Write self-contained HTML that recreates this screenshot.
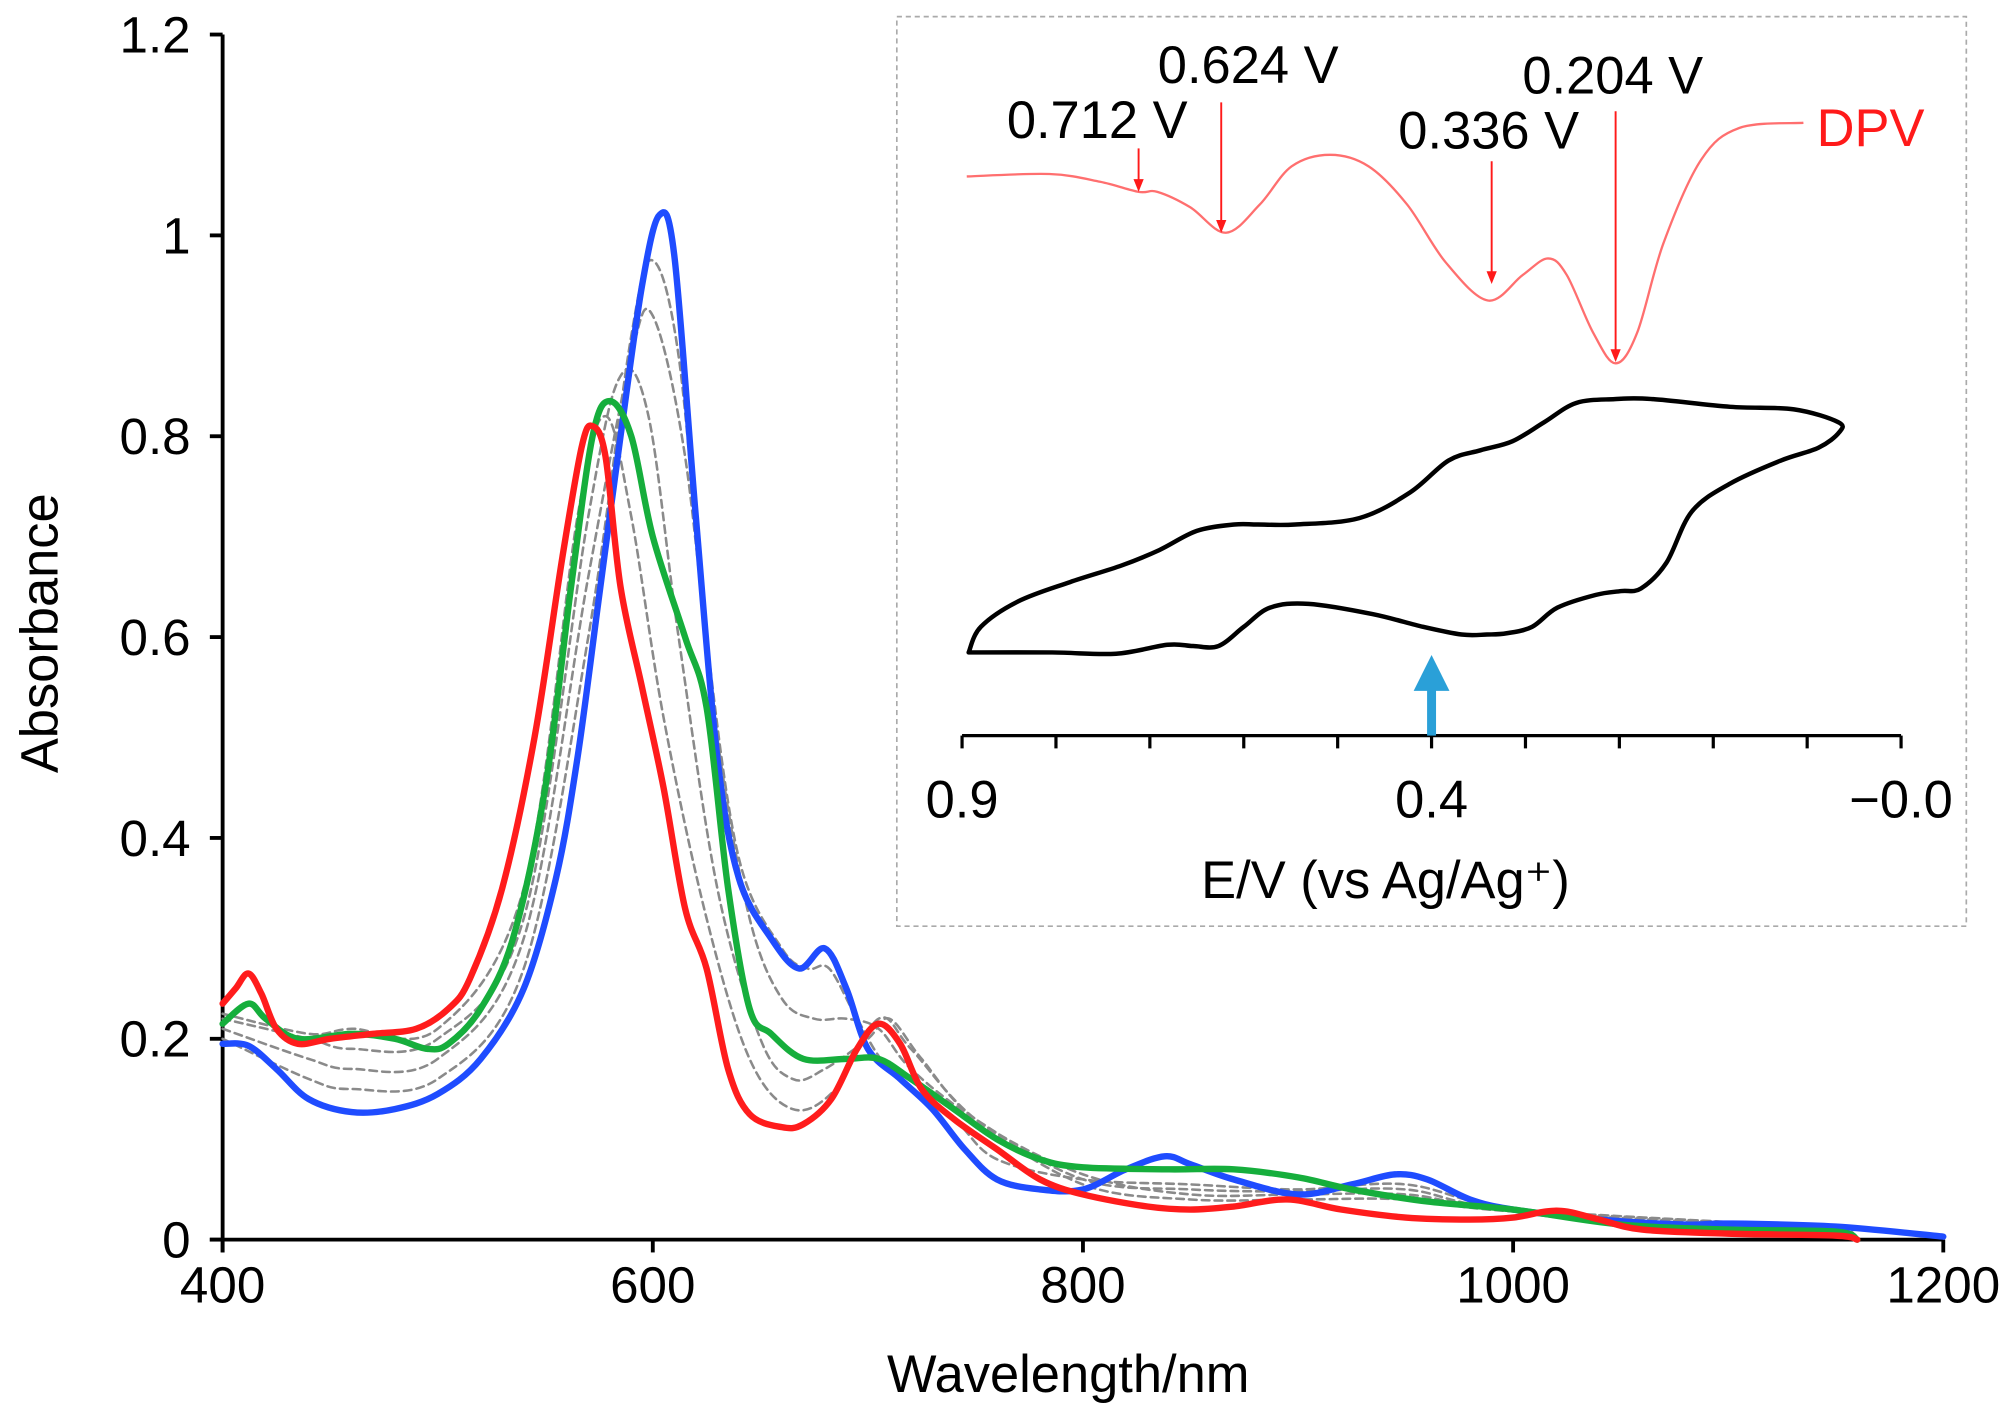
<!DOCTYPE html>
<html><head><meta charset="utf-8"><style>
html,body{margin:0;padding:0;background:#fff;}
svg{display:block;font-family:"Liberation Sans",Arial,sans-serif;}
</style></head><body>
<svg id="chart" width="2006" height="1419" viewBox="0 0 1568 1109.2" xmlns="http://www.w3.org/2000/svg">
<g id="main"></g>
<g id="inset"></g>
</svg>
<script>
// ---- main chart data ----
const yTicks = [0, 0.2, 0.4, 0.6, 0.8, 1, 1.2];
const yTickLabels = ["0", "0.2", "0.4", "0.6", "0.8", "1", "1.2"];
const xTicks = [400, 600, 800, 1000, 1200];
const xTickLabels = ["400", "600", "800", "1000", "1200"];
const blueWl = [400,412,425,440,460,480,500,520,540,555,565,575,585,595,603,610,620,630,640,655,668,680,690,700,715,730,745,760,780,800,820,838,850,870,900,925,945,960,980,1000,1040,1080,1100,1150,1200];
const blueAbs = [0.195,0.193,0.17,0.14,0.127,0.13,0.145,0.18,0.25,0.36,0.48,0.64,0.80,0.95,1.02,0.98,0.72,0.48,0.36,0.30,0.27,0.29,0.25,0.19,0.16,0.13,0.09,0.06,0.05,0.05,0.07,0.083,0.075,0.06,0.045,0.055,0.065,0.06,0.04,0.03,0.02,0.015,0.016,0.013,0.003];
const redWl = [400,406,412,418,425,435,450,470,490,505,515,530,545,558,567,572,578,585,595,605,615,625,635,645,660,670,683,695,705,715,725,740,760,780,800,830,850,870,895,920,950,980,1000,1015,1025,1040,1060,1100,1150,1160];
const redAbs = [0.235,0.25,0.265,0.245,0.21,0.195,0.2,0.205,0.21,0.23,0.26,0.35,0.5,0.68,0.79,0.81,0.78,0.65,0.55,0.45,0.33,0.27,0.17,0.125,0.112,0.115,0.14,0.19,0.215,0.195,0.15,0.12,0.09,0.06,0.045,0.033,0.03,0.033,0.04,0.03,0.022,0.02,0.022,0.028,0.028,0.02,0.01,0.006,0.004,0];
const greenWl = [400,412,420,435,460,480,495,505,520,535,550,562,572,580,590,600,615,625,635,645,655,670,690,705,720,740,760,780,800,840,870,900,925,960,1000,1050,1100,1150,1160];
const greenAbs = [0.215,0.235,0.22,0.2,0.205,0.2,0.19,0.195,0.23,0.3,0.45,0.65,0.8,0.835,0.8,0.7,0.6,0.53,0.35,0.23,0.205,0.18,0.18,0.18,0.16,0.13,0.1,0.08,0.072,0.07,0.07,0.062,0.05,0.038,0.03,0.015,0.01,0.008,0];
const gray1Wl = [400,440,460,500,540,570,590,600,612,625,640,660,672,682,695,710,740,760,800,850,900,950,1000,1100,1150,1160];
const gray1Abs = [0.2,0.16,0.15,0.16,0.27,0.6,0.9,0.975,0.88,0.6,0.38,0.29,0.27,0.27,0.22,0.17,0.12,0.08,0.06,0.055,0.05,0.055,0.03,0.015,0.013,0];
const gray2Wl = [400,440,460,500,540,570,590,600,615,630,645,660,675,690,705,720,750,800,850,900,950,1000,1150];
const gray2Abs = [0.21,0.18,0.17,0.18,0.3,0.66,0.88,0.92,0.78,0.5,0.32,0.24,0.22,0.22,0.21,0.17,0.12,0.06,0.05,0.048,0.05,0.03,0.012];
const gray3Wl = [400,440,460,500,540,570,585,598,612,630,650,665,680,700,710,725,750,800,850,900,950,1000,1150];
const gray3Abs = [0.22,0.2,0.19,0.2,0.32,0.72,0.86,0.82,0.6,0.35,0.2,0.16,0.17,0.2,0.22,0.18,0.12,0.065,0.045,0.045,0.045,0.03,0.012];
const gray4Wl = [400,440,460,500,540,565,578,590,605,625,645,665,685,705,720,750,800,850,900,950,1000,1150];
const gray4Abs = [0.225,0.205,0.21,0.21,0.35,0.72,0.82,0.72,0.52,0.32,0.18,0.13,0.15,0.22,0.19,0.12,0.055,0.04,0.04,0.04,0.028,0.01];

// ---- inset data ----
const eTicks = [0.9,0.8,0.7,0.6,0.5,0.4,0.3,0.2,0.1,0.0,-0.1];
const eTickLabelVals = [0.9, 0.4, -0.1];
const eTickLabels = ["0.9", "0.4", "\u22120.0"];
const dpvE = [0.895,0.807,0.753,0.712,0.692,0.657,0.619,0.583,0.549,0.508,0.467,0.426,0.385,0.340,0.303,0.276,0.256,0.228,0.204,0.181,0.153,0.113,0.072,0.004];
const dpvI = [-0.223,-0.213,-0.245,-0.287,-0.287,-0.351,-0.457,-0.340,-0.181,-0.133,-0.181,-0.340,-0.580,-0.739,-0.633,-0.564,-0.633,-0.872,-1.0,-0.872,-0.500,-0.154,-0.021,0];
const peakE = [0.712, 0.624, 0.336, 0.204];
const peakLabels = ["0.712 V", "0.624 V", "0.336 V", "0.204 V"];
const cvE = [0.893,0.88,0.84,0.785,0.73,0.69,0.65,0.61,0.585,0.545,0.477,0.423,0.382,0.348,0.314,0.28,0.246,0.205,0.164,0.082,0.014,-0.033,-0.034,-0.012,0.028,0.082,0.123,0.15,0.177,0.198,0.225,0.266,0.293,0.32,0.341,0.368,0.409,0.463,0.531,0.572,0.6,0.627,0.654,0.681,0.736,0.804,0.893];
const cvI = [0.0,0.1,0.2,0.275,0.34,0.4,0.475,0.5,0.5,0.5,0.525,0.625,0.75,0.79,0.825,0.9,0.975,0.99,0.99,0.96,0.95,0.9,0.86,0.8,0.75,0.66,0.55,0.35,0.25,0.24,0.225,0.175,0.1,0.075,0.07,0.07,0.1,0.15,0.19,0.175,0.1,0.025,0.025,0.03,-0.005,0.0,0.0];

const NS = "http://www.w3.org/2000/svg";
function mk(tag, attrs, parent) {
  const e = document.createElementNS(NS, tag);
  for (const k in attrs) e.setAttribute(k, attrs[k]);
  parent.appendChild(e);
  return e;
}
function smooth(pts) {
  let d = "M" + pts[0][0].toFixed(2) + "," + pts[0][1].toFixed(2);
  for (let i = 0; i < pts.length - 1; i++) {
    const p0 = pts[Math.max(0, i - 1)], p1 = pts[i], p2 = pts[i + 1], p3 = pts[Math.min(pts.length - 1, i + 2)];
    const c1 = [p1[0] + (p2[0] - p0[0]) / 6, p1[1] + (p2[1] - p0[1]) / 6];
    const c2 = [p2[0] - (p3[0] - p1[0]) / 6, p2[1] - (p3[1] - p1[1]) / 6];
    d += " C" + c1[0].toFixed(2) + "," + c1[1].toFixed(2) + " " + c2[0].toFixed(2) + "," + c2[1].toFixed(2) + " " + p2[0].toFixed(2) + "," + p2[1].toFixed(2);
  }
  return d;
}

// ---- main axes ----
const X0 = 174, X1 = 1519, Y0 = 969, Y1 = 27;
const xs = w => X0 + (w - 400) / 800 * (X1 - X0);
const ys = a => Y0 - a / 1.2 * (Y0 - Y1);
const main = document.getElementById("main");

const axisG = mk("g", {}, main);


mk("line", {x1: X0, y1: Y1, x2: X0, y2: Y0 + 10, stroke: "#000", "stroke-width": 3}, axisG);
mk("line", {x1: X0 - 10, y1: Y0, x2: X1, y2: Y0, stroke: "#000", "stroke-width": 3}, axisG);
yTicks.forEach((v, i) => {
  const t = mk("line", {x1: X0 - 10, y1: ys(v), x2: X0, y2: ys(v), stroke: "#000", "stroke-width": 3}, axisG);
  
  const l = mk("text", {x: 149, y: ys(v) + 14, "text-anchor": "end", "font-size": 40}, axisG);
  
  
  l.textContent = yTickLabels[i];
});
xTicks.forEach((v, i) => {
  const t = mk("line", {x1: xs(v), y1: Y0, x2: xs(v), y2: Y0 + 10, stroke: "#000", "stroke-width": 3}, axisG);
  
  const l = mk("text", {x: xs(v), y: 1018, "text-anchor": "middle", "font-size": 40}, axisG);
  
  
  l.textContent = xTickLabels[i];
});
const xt = mk("text", {x: 835, y: 1088, "text-anchor": "middle", "font-size": 41}, axisG);


xt.textContent = "Wavelength/nm";
const yt = mk("text", {x: 0, y: 0, "text-anchor": "middle", "font-size": 41, transform: "translate(45,495) rotate(-90)"}, axisG);


yt.textContent = "Absorbance";

function series(wl, ab, color, width, dash, name) {
  const p = mk("path", {d: smooth(wl.map((w, i) => [xs(w), ys(ab[i])])), fill: "none", stroke: color, "stroke-width": width, "stroke-linejoin": "round", "stroke-linecap": "round"}, main);
  if (dash) p.setAttribute("stroke-dasharray", dash);
  
  
}
series(gray1Wl, gray1Abs, "#8a8a8a", 2, "6,4", "intermediate-spectrum-1");
series(gray2Wl, gray2Abs, "#8a8a8a", 2, "6,4", "intermediate-spectrum-2");
series(gray3Wl, gray3Abs, "#8a8a8a", 2, "6,4", "intermediate-spectrum-3");
series(gray4Wl, gray4Abs, "#8a8a8a", 2, "6,4", "intermediate-spectrum-4");
series(blueWl, blueAbs, "#1f4cff", 5, null, "blue-spectrum");
series(greenWl, greenAbs, "#16ae3c", 5, null, "green-spectrum");
series(redWl, redAbs, "#ff1c1c", 5, null, "red-spectrum");

// ---- inset ----
const inset = document.getElementById("inset");
const box = mk("rect", {x: 701, y: 13, width: 836, height: 711, fill: "none", stroke: "#aaa", "stroke-width": 1.3, "stroke-dasharray": "4,3"}, inset);


const ex = e => 752 + (0.9 - e) * 734;
const dy = i => 96 - i * 188;
const cy = i => 510 - i * 200;
const AY = 575;
mk("line", {x1: ex(0.9), y1: AY, x2: ex(-0.1), y2: AY, stroke: "#000", "stroke-width": 2.5}, inset);
eTicks.forEach(e => {
  const t = mk("line", {x1: ex(e), y1: AY, x2: ex(e), y2: AY + 10, stroke: "#000", "stroke-width": 2.5}, inset);
  
});
eTickLabelVals.forEach((e, i) => {
  const l = mk("text", {x: ex(e), y: 639, "text-anchor": "middle", "font-size": 41}, inset);
  
  
  l.textContent = eTickLabels[i];
});
const it = mk("text", {x: 1083, y: 702, "text-anchor": "middle", "font-size": 41}, inset);


it.textContent = "E/V (vs Ag/Ag\u207A)";

const dpv = mk("path", {d: smooth(dpvE.map((e, i) => [ex(e), dy(dpvI[i])])), fill: "none", stroke: "#ff6f6f", "stroke-width": 1.8}, inset);


const dl = mk("text", {x: 1420, y: 114, "font-size": 41, fill: "#ff1a1a"}, inset);


dl.textContent = "DPV";

const cv = mk("path", {d: smooth(cvE.map((e, i) => [ex(e), cy(cvI[i])])) + " Z", fill: "none", stroke: "#000", "stroke-width": 3.5, "stroke-linejoin": "round"}, inset);



const arrowTop = [116, 80, 126, 87];
const arrowBot = [150, 182, 222, 283];
const labelX = [787, 905, 1093, 1190];
const labelY = [108, 65, 116, 73];
peakE.forEach((e, i) => {
  const x = ex(e);
  const a = mk("line", {x1: x, y1: arrowTop[i], x2: x, y2: arrowBot[i] - 8, stroke: "#ff1a1a", "stroke-width": 1.5}, inset);
  
  
  mk("polygon", {points: `${x - 4},${arrowBot[i] - 10} ${x + 4},${arrowBot[i] - 10} ${x},${arrowBot[i]}`, fill: "#ff1a1a"}, inset);
  const l = mk("text", {x: labelX[i], y: labelY[i], "font-size": 41}, inset);
  
  
  l.textContent = peakLabels[i];
});
// blue arrow at 0.4 V
const bx = ex(0.4);
const ba = mk("g", {}, inset);


mk("rect", {x: bx - 3.5, y: 538, width: 7, height: 37, fill: "#2aa0d8"}, ba);
mk("polygon", {points: `${bx - 14},${540} ${bx + 14},${540} ${bx},${512}`, fill: "#2aa0d8"}, ba);
</script>
</body></html>
